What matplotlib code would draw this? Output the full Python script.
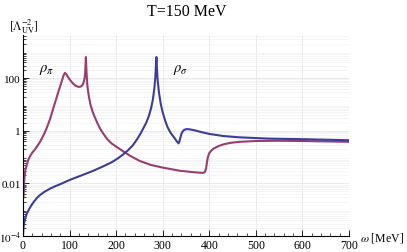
import numpy as np
import matplotlib
matplotlib.use("Agg")
import matplotlib.pyplot as plt
from matplotlib.ticker import FixedLocator, NullFormatter

plt.rcParams['font.family'] = ['Liberation Serif', 'DejaVu Serif']
plt.rcParams['mathtext.fontset'] = 'stix'

# rho_pi (omega in MeV, log10 of value)
w_pi = [0, 1, 3, 5, 8, 11, 15, 20, 26, 31, 36, 41, 47, 52, 58, 65, 73, 79, 84,
        87, 90, 93, 97, 101, 106, 112, 118, 123, 127, 130, 132, 133.5, 135,
        136.5, 138, 141, 145, 150, 155, 160, 165, 172, 180, 190, 200, 215, 230,
        251, 275, 300, 337, 370, 386, 390, 393, 395, 397, 400, 405, 410, 420,
        430, 445, 465, 500, 550, 600, 700]
lg_pi = [-2.6, -2.5, -1.8, -1.5, -1.3, -1.12, -0.97, -0.83, -0.7, -0.57, -0.44,
         -0.28, -0.06, 0.15, 0.44, 0.85, 1.31, 1.65, 1.92, 2.1, 2.2, 2.15, 2.03,
         1.93, 1.82, 1.72, 1.67, 1.67, 1.72, 1.82, 1.98, 2.2, 2.8, 2.2, 1.75,
         1.35, 0.98, 0.7, 0.48, 0.28, 0.1, -0.1, -0.3, -0.48, -0.6, -0.78,
         -0.95, -1.15, -1.3, -1.4, -1.52, -1.58, -1.6, -1.58, -1.45, -1.2, -1.0,
         -0.85, -0.74, -0.67, -0.58, -0.52, -0.46, -0.42, -0.39, -0.38, -0.39,
         -0.42]

# rho_sigma
w_sig = [0, 1, 2, 4, 8, 15, 20, 25, 30, 36, 45, 58, 70, 80, 100, 125, 151, 175,
         190, 202, 215, 225, 236, 245, 251, 258, 265, 270, 275, 279, 282, 284,
         285.5, 286.5, 287.5, 289, 292, 296, 300, 305, 310, 317, 325, 331, 334,
         336, 338, 341, 345, 350, 355, 362, 370, 385, 400, 430, 465, 530, 600,
         700]
lg_sig = [-4.0, -3.7, -3.55, -3.37, -3.15, -2.92, -2.78, -2.66, -2.55, -2.45,
          -2.33, -2.2, -2.1, -2.03, -1.87, -1.7, -1.52, -1.33, -1.2, -1.07,
          -0.9, -0.75, -0.55, -0.32, -0.15, 0.08, 0.32, 0.55, 0.85, 1.2, 1.6,
          2.0, 2.5, 2.8, 2.4, 1.95, 1.45, 1.0, 0.7, 0.4, 0.15, -0.08, -0.27,
          -0.42, -0.48, -0.4, -0.25, -0.08, 0.02, 0.06, 0.06, 0.04, 0.01, -0.06,
          -0.12, -0.2, -0.25, -0.3, -0.32, -0.36]

xticks = [0, 100, 200, 300, 400, 500, 600, 700]
yticks = [1e-4, 1e-2, 1, 100]
ylabels = [r'$10^{-4}$', '0.01', '1', '100']

fig = plt.figure(figsize=(4.07, 2.53), dpi=100)
ax = fig.add_axes([0.0565, 0.063, 0.801, 0.795])

ax.plot(w_pi, 10**np.array(lg_pi), color=(0.6, 0.24, 0.442), lw=1.5)
ax.plot(w_sig, 10**np.array(lg_sig), color=(0.24, 0.24, 0.6), lw=1.5)

ax.set_yscale('log')
ax.set_xlim(0, 700)
ax.set_ylim(1e-4, 10**3.64)

ax.set_xticks(xticks)
ax.xaxis.set_minor_locator(FixedLocator(np.arange(0, 701, 20)))
ax.set_yticks(yticks)
ax.set_yticklabels(ylabels)
minor_y = [m * 10.0**e for e in range(-4, 4) for m in range(2, 10)]
ax.yaxis.set_minor_locator(FixedLocator(minor_y))
ax.yaxis.set_minor_formatter(NullFormatter())

ax.tick_params(which='both', direction='in', pad=2)
ax.tick_params(axis='x', labelsize=8.5)
ax.tick_params(axis='y', labelsize=8, pad=1.5)
ax.tick_params(which='major', length=4, width=0.6)
ax.tick_params(which='minor', length=2, width=0.5)

ax.grid(axis='x', which='major', color='#e6e6e6', lw=0.6)
ax.grid(axis='y', which='major', color='#e6e6e6', lw=0.6)
ax.grid(axis='y', which='minor', color='#f1f1f1', lw=0.5)
ax.set_axisbelow(True)

for s in ['top', 'right']:
    ax.spines[s].set_visible(False)
ax.spines['left'].set_linewidth(0.8)
ax.spines['bottom'].set_linewidth(0.8)

ax.text(50, 220, r'$\rho_\pi$', fontsize=10.5, ha='center', va='center')
ax.text(338, 220, r'$\rho_\sigma$', fontsize=10.5, ha='center', va='center')

fig.text(0.458, 0.952, 'T=150 MeV', fontsize=11.5, ha='center', va='center')
fig.text(0.059, 0.893, r'$[\Lambda_{\mathrm{UV}}^{-2}]$', fontsize=8.5, ha='center', va='center')
fig.text(0.884, 0.059, r'$\omega$ [MeV]', fontsize=8.5, ha='left', va='center')

fig.savefig('out.png', dpi=100)
